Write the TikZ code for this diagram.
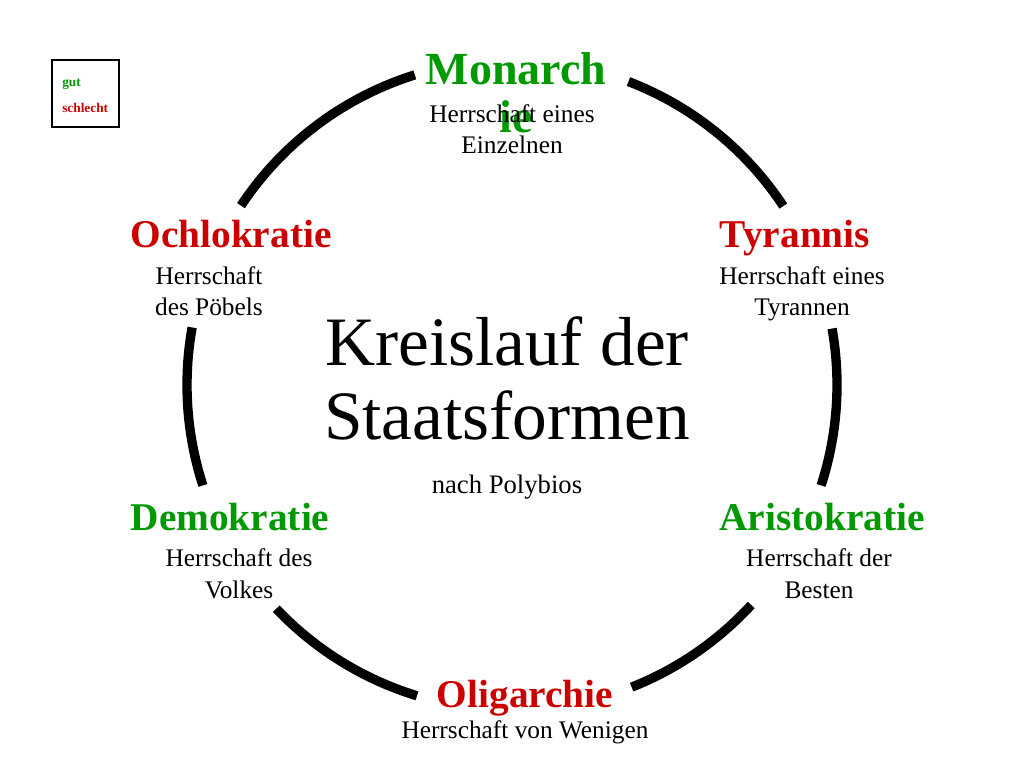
\documentclass[tikz,border=0pt]{standalone}
\usepackage{fontspec}
\setmainfont{Liberation Serif}
\definecolor{gutgreen}{RGB}{0,153,0}
\definecolor{badred}{RGB}{204,0,0}
\begin{document}
\begin{tikzpicture}[x=0.75pt,y=0.75pt,
  ring/.style={line width=7pt,black,line cap=butt},
  lbl/.style={inner sep=0pt,anchor=base,font=\fontsize{29.5}{34}\selectfont\bfseries},
  good/.style={lbl,text=gutgreen},
  bad/.style={lbl,text=badred},
  desc/.style={inner sep=0pt,anchor=base,align=center,font=\fontsize{19}{23.3}\selectfont},
  legtxt/.style={inner sep=0pt,anchor=base west,font=\fontsize{10}{12}\selectfont\bfseries}]
\useasboundingbox[fill=white] (0,0) rectangle (1024,768);
\coordinate (c) at (512,383);
% circle segments
\draw[ring] ([shift={(69:325)}]c) arc[start angle=69,end angle=33.4,radius=325];
\draw[ring] ([shift={(10:325)}]c) arc[start angle=10,end angle=-18,radius=325];
\draw[ring] ([shift={(-42.6:325)}]c) arc[start angle=-42.6,end angle=-68.4,radius=325];
\draw[ring] ([shift={(-107:325)}]c) arc[start angle=-107,end angle=-136.5,radius=325];
\draw[ring] ([shift={(169.8:325)}]c) arc[start angle=169.8,end angle=198,radius=325];
\draw[ring] ([shift={(146.5:325)}]c) arc[start angle=146.5,end angle=107.4,radius=325];
% legend
\node[draw=black,line width=0.8pt,minimum width=50.25pt,minimum height=50.25pt,inner sep=0pt] (leg) at (85.5,674.5) {};
\node[legtxt,text=gutgreen] (lgut) at (62,681) {gut};
\node[legtxt,text=badred] (lbad) at (62,655) {schlecht};
% title
\node[inner sep=0pt,anchor=base,align=center,font=\fontsize{52}{56}\selectfont] (title) at (507,328) {Kreislauf der\\Staatsformen};
\node[inner sep=0pt,anchor=base,font=\fontsize{20}{24}\selectfont] (nach) at (507,274) {nach Polybios};
% labels
\node[good,align=center,font=\fontsize{34.5}{36}\selectfont\bfseries] (mon) at (516,635) {Monarch\\ie};
\node[desc] (mond) at (512,614) {Herrschaft eines\\Einzelnen};
\node[bad] (och) at (231,520) {Ochlokratie};
\node[desc] (ochd) at (209,452) {Herrschaft\\des Pöbels};
\node[bad] (tyr) at (795,520) {Tyrannis};
\node[desc] (tyrd) at (802,452) {Herrschaft eines\\Tyrannen};
\node[good] (dem) at (230,238) {Demokratie};
\node[desc] (demd) at (239,170) {Herrschaft des\\Volkes};
\node[good] (ari) at (822,238) {Aristokratie};
\node[desc] (arid) at (819,170) {Herrschaft der\\Besten};
\node[bad] (oli) at (525,61) {Oligarchie};
\node[desc] (olid) at (525,30) {Herrschaft von Wenigen};
\end{tikzpicture}
\end{document}
